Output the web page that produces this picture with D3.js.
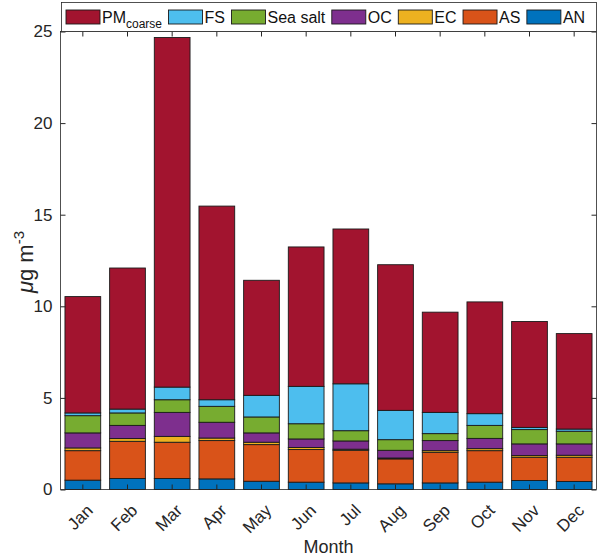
<!DOCTYPE html>
<html><head><meta charset="utf-8">
<script src="https://cdn.jsdelivr.net/npm/d3@7"></script>
<style>body{margin:0;background:#fff}svg{display:block;font-family:"Liberation Sans",Arial,sans-serif}</style>
</head><body>
<svg id="c" width="600" height="558"></svg>
<script>
const months = ["Jan","Feb","Mar","Apr","May","Jun","Jul","Aug","Sep","Oct","Nov","Dec"];
const AN      = [0.51,0.60,0.60,0.58,0.45,0.40,0.36,0.31,0.36,0.40,0.49,0.44];
const AS      = [1.61,2.03,1.98,2.09,2.00,1.78,1.78,1.36,1.67,1.72,1.27,1.32];
const EC      = [0.15,0.15,0.32,0.14,0.13,0.11,0.06,0.05,0.09,0.11,0.09,0.11];
const OC      = [0.82,0.72,1.31,0.86,0.51,0.47,0.45,0.42,0.55,0.56,0.64,0.62];
const SeaSalt = [0.94,0.68,0.69,0.87,0.87,0.83,0.56,0.58,0.38,0.71,0.78,0.69];
const FS      = [0.15,0.21,0.69,0.36,1.18,2.04,2.56,1.60,1.16,0.64,0.12,0.12];
const PMcoarse= [6.35,7.70,19.08,10.57,6.28,7.61,8.45,7.95,5.47,6.10,5.78,5.21];
const yTicks  = [0,5,10,15,20,25];

const seriesKeys = ["AN","AS","EC","OC","Sea salt","FS","PMcoarse"];
const seriesVals = {"AN":AN,"AS":AS,"EC":EC,"OC":OC,"Sea salt":SeaSalt,"FS":FS,"PMcoarse":PMcoarse};
const colors = {"PMcoarse":"#A2142F","FS":"#4DBEEE","Sea salt":"#77AC30","OC":"#7E2F8E","EC":"#EDB120","AS":"#D95319","AN":"#0072BD"};
const legendOrder = ["PMcoarse","FS","Sea salt","OC","EC","AS","AN"];

const table = months.map((m,i)=>{const o={month:m}; seriesKeys.forEach(k=>o[k]=seriesVals[k][i]); return o;});

const L=60.5, R=596.5, T=31.5, B=489.5;
const svg = d3.select("#c");
const x = d3.scaleBand().domain(months).range([L,R]).paddingInner(0.2).paddingOuter(0.1);
const y = d3.scaleLinear().domain([0,25]).range([B,T]);

const stack = d3.stack().keys(seriesKeys)(table);
svg.append("g").selectAll("g").data(stack).join("g")
  .attr("fill", d=>colors[d.key])
  .selectAll("rect").data(d=>d).join("rect")
  .attr("x", d=>x(d.data.month))
  .attr("width", x.bandwidth())
  .attr("y", d=>y(d[1]))
  .attr("height", d=>y(d[0])-y(d[1]))
  .attr("stroke","#1a1a1a").attr("stroke-width",0.9);

const axc="#262626";
svg.append("rect").attr("x",L).attr("y",T).attr("width",R-L).attr("height",B-T)
  .attr("fill","none").attr("stroke",axc).attr("stroke-width",0.8);

const yAxL = svg.append("g").attr("transform",`translate(${L},0)`)
  .call(d3.axisLeft(y).tickValues(yTicks).tickSize(-5).tickPadding(8).tickFormat(d3.format("d")));
yAxL.select(".domain").remove();
yAxL.selectAll("line").attr("stroke",axc);
yAxL.selectAll("text").attr("font-size",17).attr("fill","#262626").attr("font-family","'Liberation Sans',Arial,sans-serif");
const yAxR = svg.append("g").attr("transform",`translate(${R},0)`)
  .call(d3.axisRight(y).tickValues(yTicks).tickSize(-5).tickFormat(""));
yAxR.select(".domain").remove(); yAxR.selectAll("line").attr("stroke",axc);

const xAxB = svg.append("g").attr("transform",`translate(0,${B})`)
  .call(d3.axisBottom(x).tickSize(-5).tickPadding(8));
xAxB.select(".domain").remove();
xAxB.selectAll("line").attr("stroke",axc);
xAxB.selectAll("text").attr("font-size",17).attr("fill","#262626")
  .attr("font-family","'Liberation Sans',Arial,sans-serif")
  .attr("text-anchor","end").attr("dy",null).attr("y",0)
  .attr("transform","translate(11,22) rotate(-45)");
const xAxT = svg.append("g").attr("transform",`translate(0,${T})`)
  .call(d3.axisTop(x).tickSize(-5).tickFormat(""));
xAxT.select(".domain").remove(); xAxT.selectAll("line").attr("stroke",axc);

svg.append("text").attr("x",(L+R)/2).attr("y",553).attr("text-anchor","middle")
  .attr("font-size",18).attr("fill","#262626").text("Month");
const yl = svg.append("text").attr("transform","translate(33,262) rotate(-90)")
  .attr("text-anchor","middle").attr("font-size",22).attr("fill","#262626");
yl.append("tspan").attr("font-style","italic").text("μ");
yl.append("tspan").text("g m");
yl.append("tspan").attr("dy",-9).attr("font-size",15).text("-3");

const lg = svg.append("g");
lg.append("rect").attr("x",61.5).attr("y",2.5).attr("width",R-61.5).attr("height",T-2.5)
  .attr("fill","#fff").attr("stroke",axc).attr("stroke-width",0.8);
let cx = 66;
legendOrder.forEach(k=>{
  lg.append("rect").attr("x",cx).attr("y",10).attr("width",34).attr("height",14)
    .attr("fill",colors[k]).attr("stroke","#1a1a1a").attr("stroke-width",0.9);
  const t = lg.append("text").attr("x",cx+36).attr("y",23).attr("font-size",16).attr("fill","#111");
  if(k==="PMcoarse"){
    t.append("tspan").text("PM");
    t.append("tspan").attr("dy",5).attr("font-size",12).text("coarse");
  } else t.text(k);
  cx += 36 + t.node().getComputedTextLength() + 6.5;
});
</script>
</body></html>
